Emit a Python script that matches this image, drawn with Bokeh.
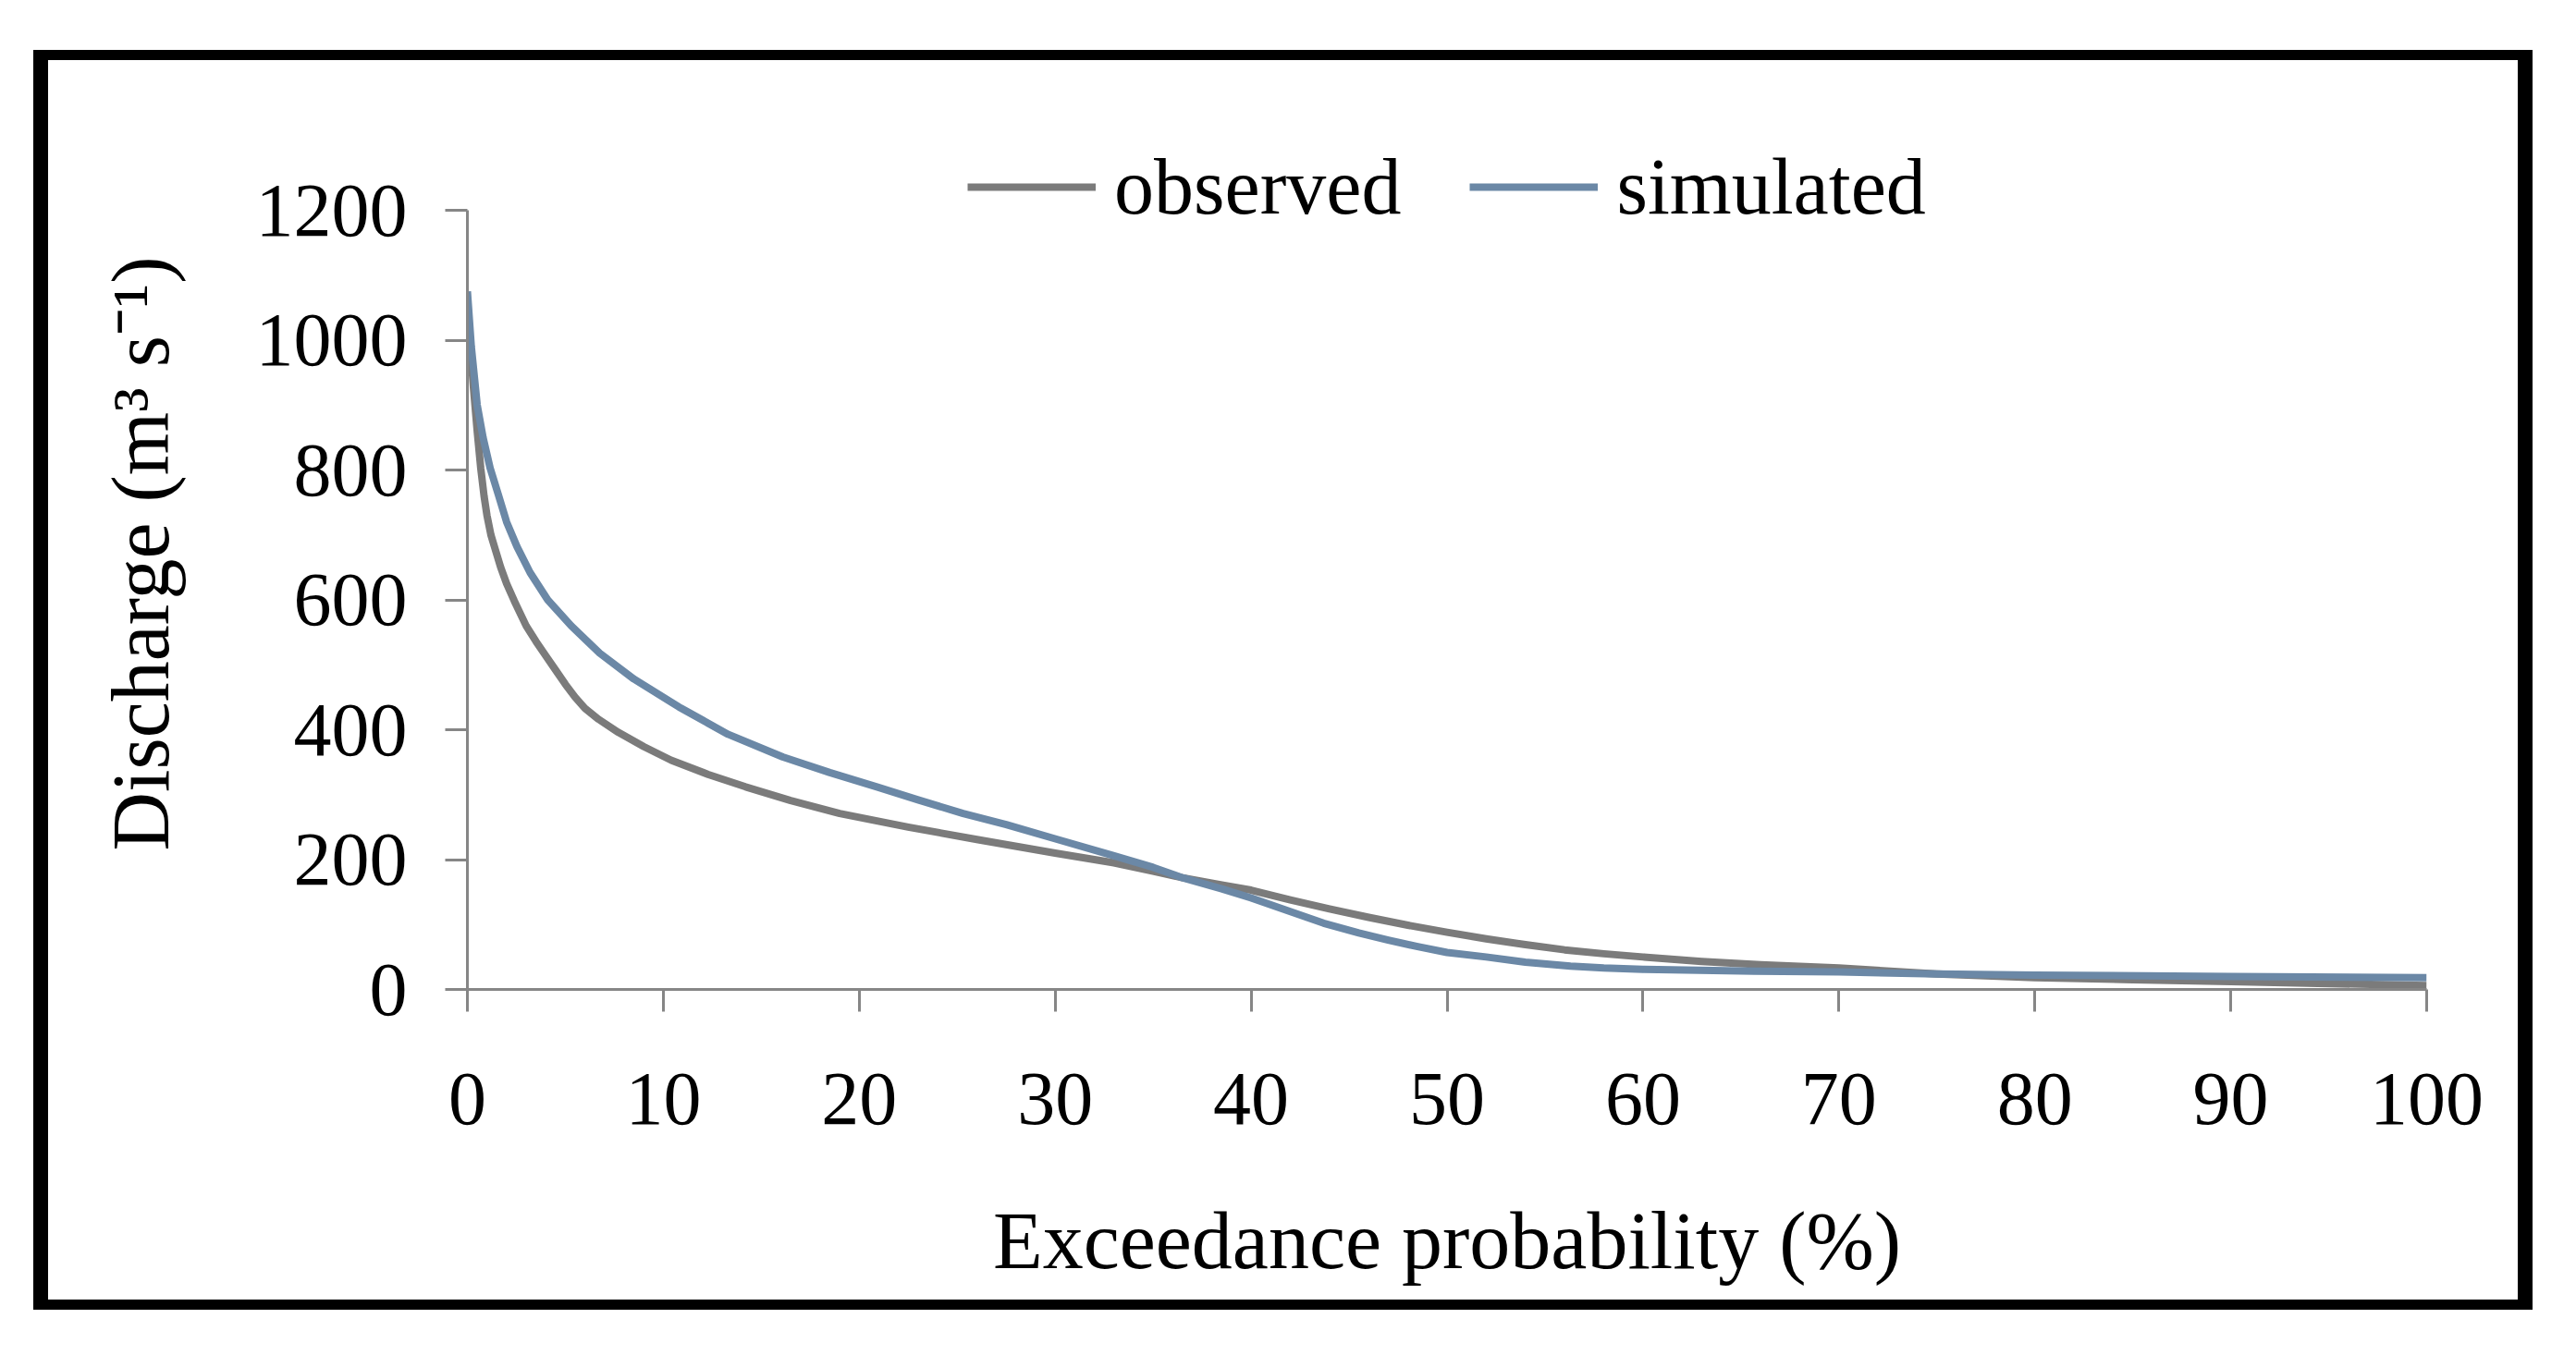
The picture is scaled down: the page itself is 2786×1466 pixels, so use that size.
from bokeh.plotting import figure
from bokeh.models import Range1d, FixedTicker, Legend, LegendItem
from bokeh.embed import file_html
from bokeh.resources import INLINE

# ---- data ----
obs_x = [0, 0.15, 0.3, 0.5, 0.68, 0.85, 1.0, 1.2, 1.4, 1.7, 2.0, 2.4, 3.0, 3.5, 4.0, 4.5, 5.0,
         5.5, 6.0, 6.7, 7.7, 9.0, 10.4, 12.3, 14.2, 16.5, 19, 22.5, 26, 30, 33, 35, 36.5, 38.5,
         40, 42, 44, 46, 48, 50, 52, 54, 56, 58, 60, 63, 66, 70, 75, 80, 85, 90, 95, 100]
obs_y = [1060, 990, 930, 860, 803, 760, 730, 700, 680, 650, 625, 598, 560, 536, 514, 492, 470,
         450, 433, 416, 396, 374, 353, 331, 312, 291, 271, 250, 231, 210, 195, 182, 172, 161,
         153, 138, 124, 111, 99, 88, 78, 69, 61, 55, 50, 43, 38, 33, 24, 18, 15, 12, 9, 6]

sim_x = [0, 0.2, 0.5, 0.8, 1.16, 1.6, 2.0, 2.53, 3.2, 4.1, 5.3, 6.75, 8.5, 10.8, 13.3, 16.1,
         18.5, 20.9, 23, 25.3, 27.5, 30, 33, 35, 36.5, 38.5, 40, 42, 43.7, 45.5, 47, 48.5, 50,
         52, 54, 56.3, 58, 60, 65.7, 70, 75, 80, 90, 100]
sim_y = [1075, 990, 900, 850, 803, 760, 720, 682, 642, 600, 560, 518, 478, 435, 393, 358,
         334, 312, 292, 271, 254, 232, 206, 188, 172, 155, 141, 120, 102, 87, 76, 66, 57,
         50, 42, 36, 33, 31, 28, 27, 24, 22, 20, 18]

x_ticks = [0, 10, 20, 30, 40, 50, 60, 70, 80, 90, 100]
y_ticks = [0, 200, 400, 600, 800, 1000, 1200]
series_names = ["observed", "simulated"]

FONT = "Liberation Serif"
OBS_COLOR = "#7b7b7b"
SIM_COLOR = "#6b88a6"

PX_PER_UNIT = 843 / 1200.0
EXTRA_TOP = 100  # room above the 1200 tick for the legend
y_end = 1200 + EXTRA_TOP / PX_PER_UNIT

p = figure(width=2671, height=1341, output_backend="svg", toolbar_location=None,
           x_range=Range1d(0, 100), y_range=Range1d(0, y_end),
           min_border_left=453, min_border_right=131, min_border_top=162 - EXTRA_TOP,
           min_border_bottom=358)
p.styles = {"box-sizing": "content-box", "border-style": "solid", "border-color": "black",
            "border-width": "11px 16px", "margin-left": "36px", "margin-top": "54px"}
p.background_fill_color = "white"
p.border_fill_color = "white"
p.outline_line_color = None
p.xgrid.visible = False
p.ygrid.visible = False

r_obs = p.line(obs_x, obs_y, line_color=OBS_COLOR, line_width=8, line_join="round")
r_sim = p.line(sim_x, sim_y, line_color=SIM_COLOR, line_width=8, line_join="round")

for ax, ticks in ((p.xaxis[0], x_ticks), (p.yaxis[0], y_ticks)):
    ax.ticker = FixedTicker(ticks=ticks)
    ax.minor_tick_line_color = None
    ax.major_tick_in = 0
    ax.major_tick_out = 24
    ax.major_tick_line_width = 3
    ax.major_tick_line_color = "#868686"
    ax.axis_line_width = 3
    ax.axis_line_color = "#868686"
    ax.major_label_text_font = FONT
    ax.major_label_text_font_size = "82px"
    ax.major_label_text_color = "black"
    ax.axis_label_text_font = FONT
    ax.axis_label_text_font_size = "88px"
    ax.axis_label_text_font_style = "normal"
    ax.axis_label_text_color = "black"

p.yaxis.bounds = (0, 1200)
p.xaxis.major_label_standoff = 67
p.yaxis.major_label_standoff = 41
p.xaxis.axis_label = "Exceedance probability (%)"
p.yaxis.axis_label = "Discharge (m\u00b3 s\u207b\u00b9)"
p.xaxis.axis_label_standoff = 75
p.yaxis.axis_label_standoff = 73

legend = Legend(items=[LegendItem(label=series_names[0], renderers=[r_obs]),
                       LegendItem(label=series_names[1], renderers=[r_sim])],
                orientation="horizontal", location=(541, 818),
                glyph_width=139, glyph_height=40, label_standoff=20, spacing=74,
                padding=0, margin=0, border_line_alpha=0, background_fill_alpha=0,
                label_text_font=FONT, label_text_font_size="86px", label_text_color="black")
p.add_layout(legend, "center")

open("out.html", "w").write(file_html(p, INLINE))
